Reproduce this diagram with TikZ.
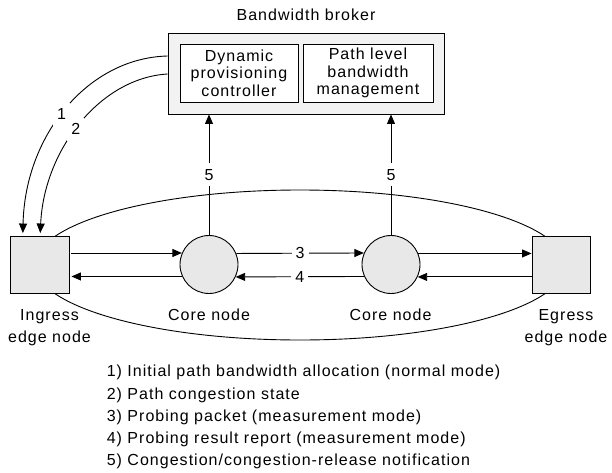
\documentclass[tikz,border=0pt]{standalone}
\usepackage{fontspec}
\setmainfont{Liberation Sans}[LetterSpace=6.4]
\usetikzlibrary{arrows.meta,calc}
\definecolor{boxfill}{HTML}{F2F2F2}
\definecolor{nodefill}{HTML}{E8E8E8}
\begin{document}
\begin{tikzpicture}[x=1pt,y=-1pt,line width=0.9pt,
  every node/.style={font=\fontsize{16}{17.5}\selectfont},
  arr/.style={-{Triangle[length=9.5pt,width=8pt]}},
  lbl/.style={fill=white,inner xsep=4pt,inner ysep=6pt},
  inbox/.style={draw,fill=white,minimum height=58pt,inner sep=0pt,align=center},
  edgebox/.style={draw,fill=nodefill,minimum height=57pt,inner sep=0pt},
  corenode/.style={draw,circle,fill=nodefill,minimum size=58pt,inner sep=0pt},
  caption/.style={align=center,font=\fontsize{16}{21.3}\selectfont}]
\useasboundingbox (0,0) rectangle (612,473);
% domain ellipse
\draw (300,265) ellipse [x radius=265pt, y radius=75pt];
% bandwidth broker
\node[anchor=base] (title) at (306,20.7) {Bandwidth broker};
\node[draw,fill=boxfill,minimum width=276pt,minimum height=81pt,inner sep=0pt] (bb) at (306,73.5) {};
\node[inbox,minimum width=118pt] (dpc) at (239,73) {Dynamic\\provisioning\\controller};
\node[inbox,minimum width=130pt] (plbm) at (368,73) {Path level\\bandwidth\\management};
% nodes
\node[edgebox,minimum width=59pt] (ing) at (39.5,264.5) {};
\node[edgebox,minimum width=58pt] (egr) at (561,264.5) {};
\node[corenode] (c1) at (209,264.5) {};
\node[corenode] (c2) at (391,264.5) {};
% captions (anchor base = last line)
\node[caption,anchor=base] (ingl) at (49.5,342) {Ingress\\edge node};
\node[caption,anchor=base] (c1l) at (209,320.7) {Core node};
\node[caption,anchor=base] (c2l) at (390.5,320.7) {Core node};
\node[caption,anchor=base] (egrl) at (566,342) {Egress\\edge node};
% horizontal arrows
\draw[arr] ([xshift=2pt]ing.east |- c1.157.3) -- (c1.157.3);
\draw[arr] (c1.22.7) -- node[lbl]{3} (c2.157.3);
\draw[arr] (c2.22.7) -- (egr.west |- c2.22.7);
\draw[arr] (egr.west |- c2.335.1) -- (c2.335.1);
\draw[arr] (c2.204.9) -- node[lbl]{4} (c1.335.1);
\draw[arr] (c1.204.9) -- ([xshift=2pt]ing.east |- c1.204.9);
% notifications
\draw[arr] (c1.north) -- node[lbl]{5} (c1.north |- bb.south);
\draw[arr] (c2.north) -- node[lbl]{5} (c2.north |- bb.south);
% curved arrows
\draw[arr] ([yshift=17.5pt]bb.west) .. controls (88,58) and (25,135) .. ($(ing.north west)+(13.3,-2.5)$) node[lbl,pos=0.53]{1};
\draw[arr] ([yshift=-0.5pt]bb.west) .. controls (100,78) and (44,150) .. ($(ing.north west)+(30.7,-2.5)$) node[lbl,pos=0.53]{2};
% legend (anchor base = last line)
\node[anchor=base west,align=left,font=\fontsize{16}{22.2}\selectfont] (legend) at (103,465.7)
{1) Initial path bandwidth allocation (normal mode)\\
2) Path congestion state\\
3) Probing packet (measurement mode)\\
4) Probing result report (measurement mode)\\
5) Congestion/congestion-release notification};
\end{tikzpicture}
\end{document}
